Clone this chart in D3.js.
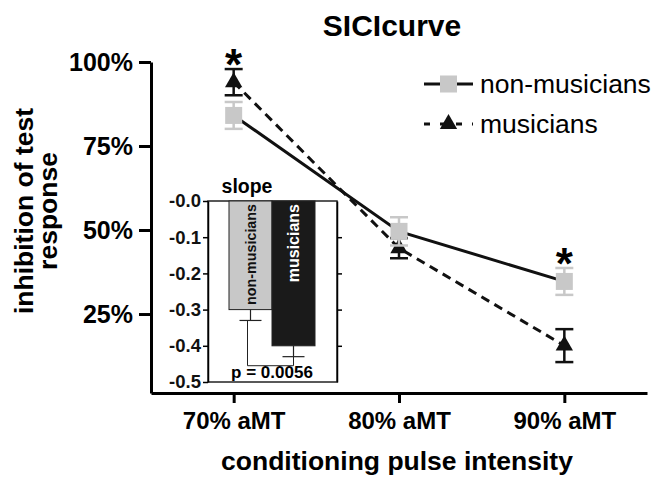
<!DOCTYPE html>
<html>
<head>
<meta charset="utf-8">
<script src="https://cdn.jsdelivr.net/npm/d3@7"></script>
<style>
  body { margin: 0; background: #fff; }
  text { font-family: "Liberation Sans", Arial, Helvetica, sans-serif; }
</style>
</head>
<body>
<svg id="chart" width="655" height="478"></svg>
<script>
// main curve data (% inhibition of test response)
const conditions = ["70% aMT", "80% aMT", "90% aMT"];
const nonMusMean = [84.1, 49.6, 34.7];
const nonMusErr = [4.0, 4.2, 4.0];
const musMean = [94.0, 44.6, 15.6];
const musErr = [3.9, 3.0, 4.9];
const sigStars = ["*", "", "*"];
const yTicks = [25, 50, 75, 100];

// inset slope data
const slopeGroups = ["non-musicians", "musicians"];
const slopeMean = [-0.30, -0.40];
const slopeErr = [0.03, 0.03];
const slopeTicks = [0, -0.1, -0.2, -0.3, -0.4, -0.5];
const pLabel = "p = 0.0056";

const gray = "#c8c8c8";
const svg = d3.select("#chart");

const x = d3.scalePoint().domain(conditions).range([151, 647]).padding(0.5);
const y = d3.scaleLinear().domain([1.5, 100]).range([393, 62]);

// Title
svg.append("text")
    .attr("x", 392).attr("y", 36)
    .attr("text-anchor", "middle")
    .attr("font-size", "30px").attr("font-weight", "bold")
    .text("SICIcurve");

// Axes
const xAxis = svg.append("g")
    .attr("transform", "translate(0,393)")
    .call(d3.axisBottom(x).tickSize(10).tickSizeOuter(0).tickPadding(9));
xAxis.select(".domain").attr("stroke-width", 3);
xAxis.selectAll(".tick line").attr("stroke-width", 3);
xAxis.selectAll(".tick text")
    .attr("font-size", "24px").attr("font-weight", "bold")
    .attr("font-family", "Liberation Sans, Arial, sans-serif");

const yAxis = svg.append("g")
    .attr("transform", "translate(151,0)")
    .call(d3.axisLeft(y).tickValues(yTicks).tickFormat(d => d + "%")
        .tickSize(12).tickSizeOuter(0).tickPadding(6));
yAxis.select(".domain").attr("stroke-width", 3);
yAxis.selectAll(".tick line").attr("stroke-width", 3);
yAxis.selectAll(".tick text")
    .attr("font-size", "25px").attr("font-weight", "bold")
    .attr("font-family", "Liberation Sans, Arial, sans-serif");

// Axis titles
svg.append("text")
    .attr("x", 397).attr("y", 470)
    .attr("text-anchor", "middle")
    .attr("font-size", "26.5px").attr("font-weight", "bold")
    .text("conditioning pulse intensity");

const yTitle = svg.append("text")
    .attr("transform", "translate(0,211) rotate(-90)")
    .attr("text-anchor", "middle")
    .attr("font-size", "26.5px").attr("font-weight", "bold");
yTitle.append("tspan").attr("x", 0).attr("y", 33).text("inhibition of test");
yTitle.append("tspan").attr("x", 0).attr("y", 57).text("response");

// Lines
const line = d3.line().x((d, i) => x(conditions[i])).y(d => y(d));
svg.append("path").datum(musMean)
    .attr("d", line).attr("fill", "none")
    .attr("stroke", "#111").attr("stroke-width", 3)
    .attr("stroke-dasharray", "9,6");
svg.append("path").datum(nonMusMean)
    .attr("d", line).attr("fill", "none")
    .attr("stroke", "#111").attr("stroke-width", 3);

const tri = d3.symbol().type(d3.symbolTriangle).size(130);

function drawErrors(means, errs, color) {
    const g = svg.append("g").attr("stroke", color).attr("stroke-width", 2.5);
    means.forEach((m, i) => {
        const cx = x(conditions[i]);
        g.append("line").attr("x1", cx).attr("x2", cx)
            .attr("y1", y(m - errs[i])).attr("y2", y(m + errs[i]));
        [m - errs[i], m + errs[i]].forEach(v => {
            g.append("line").attr("x1", cx - 9).attr("x2", cx + 9)
                .attr("y1", y(v)).attr("y2", y(v));
        });
    });
}

// musicians (triangles)
drawErrors(musMean, musErr, "#111");
svg.selectAll(".tri").data(musMean).join("path")
    .attr("class", "tri")
    .attr("d", tri)
    .attr("transform", (d, i) => `translate(${x(conditions[i])},${y(d)})`)
    .attr("fill", "#111");

// non-musicians (squares)
drawErrors(nonMusMean, nonMusErr, gray);
svg.selectAll(".sq").data(nonMusMean).join("rect")
    .attr("class", "sq")
    .attr("x", (d, i) => x(conditions[i]) - 8.5)
    .attr("y", d => y(d) - 8.5)
    .attr("width", 17).attr("height", 17)
    .attr("fill", gray);

// significance stars
svg.selectAll(".star").data(sigStars).join("text")
    .attr("class", "star")
    .attr("x", (d, i) => x(conditions[i]))
    .attr("y", (d, i) => y(Math.max(musMean[i] + musErr[i], nonMusMean[i] + nonMusErr[i])) - 14 + 25)
    .attr("text-anchor", "middle")
    .attr("font-size", "44px").attr("font-weight", "bold")
    .text(d => d);

// Legend
const legend = svg.append("g");
const legendRows = [
    { label: "non-musicians", y: 84, dash: null, marker: "sq" },
    { label: "musicians", y: 124, dash: "6,10", marker: "tri" }
];
legendRows.forEach(r => {
    legend.append("line")
        .attr("x1", 424).attr("x2", 473).attr("y1", r.y).attr("y2", r.y)
        .attr("stroke", "#111").attr("stroke-width", 3)
        .attr("stroke-dasharray", r.dash);
    if (r.marker === "sq") {
        legend.append("rect").attr("x", 440).attr("y", r.y - 8.5)
            .attr("width", 17).attr("height", 17).attr("fill", gray);
    } else {
        legend.append("path").attr("d", tri)
            .attr("transform", `translate(448.5,${r.y})`).attr("fill", "#111");
    }
    legend.append("text")
        .attr("x", 480).attr("y", r.y + 9)
        .attr("font-size", "26.5px")
        .text(r.label);
});

// Inset: slope bar chart
const ix = d3.scaleBand().domain(slopeGroups).range([229, 315]).padding(0);
const iy = d3.scaleLinear().domain([-0.5, 0]).range([382, 201]);
const inset = svg.append("g");

inset.append("rect")
    .attr("x", 208).attr("y", 201).attr("width", 129).attr("height", 181)
    .attr("fill", "#fff").attr("stroke", "#222").attr("stroke-width", 1.5);

inset.selectAll(".bar").data(slopeMean).join("rect")
    .attr("class", "bar")
    .attr("x", (d, i) => ix(slopeGroups[i]))
    .attr("y", iy(0))
    .attr("width", ix.bandwidth())
    .attr("height", d => iy(d) - iy(0))
    .attr("fill", (d, i) => i === 0 ? gray : "#1a1a1a")
    .attr("stroke", "#222").attr("stroke-width", 1);

// downward error bars
slopeMean.forEach((m, i) => {
    const cx = ix(slopeGroups[i]) + ix.bandwidth() / 2;
    inset.append("line").attr("x1", cx).attr("x2", cx)
        .attr("y1", iy(m)).attr("y2", iy(m - slopeErr[i]))
        .attr("stroke", "#222").attr("stroke-width", 1.2);
    inset.append("line").attr("x1", cx - 11).attr("x2", cx + 11)
        .attr("y1", iy(m - slopeErr[i])).attr("y2", iy(m - slopeErr[i]))
        .attr("stroke", "#222").attr("stroke-width", 1.2);
});

// bar labels
inset.selectAll(".blabel").data(slopeGroups).join("text")
    .attr("class", "blabel")
    .attr("transform", d => `translate(${ix(d) + ix.bandwidth() / 2 + 5.5},${iy(0) + 3}) rotate(-90)`)
    .attr("text-anchor", "end")
    .attr("font-size", (d, i) => i === 0 ? "14.3px" : "16px")
    .attr("font-weight", "bold")
    .attr("fill", (d, i) => i === 0 ? "#111" : "#fff")
    .text(d => d);

const iAxisL = inset.append("g")
    .attr("transform", "translate(208,0)")
    .call(d3.axisLeft(iy).tickValues(slopeTicks)
        .tickFormat(d => "-" + Math.abs(d).toFixed(1))
        .tickSize(5).tickSizeOuter(0).tickPadding(2));
iAxisL.select(".domain").attr("stroke-width", 1.5);
iAxisL.selectAll(".tick line").attr("stroke-width", 1.5);
iAxisL.selectAll(".tick text")
    .attr("font-size", "18.5px").attr("font-weight", "bold").attr("fill", "#111")
    .attr("font-family", "Liberation Sans, Arial, sans-serif");

const iAxisR = inset.append("g")
    .attr("transform", "translate(337,0)")
    .call(d3.axisRight(iy).tickValues(slopeTicks.slice(1, 5))
        .tickFormat("").tickSize(5).tickSizeOuter(0));
iAxisR.select(".domain").attr("stroke-width", 1.5);
iAxisR.selectAll(".tick line").attr("stroke-width", 1.5);

// significance bracket
const bx1 = ix(slopeGroups[0]) + ix.bandwidth() / 2 - 3;
const bx2 = ix(slopeGroups[1]) + ix.bandwidth() / 2;
const bBottom = iy(-0.455);
inset.append("path")
    .attr("d", `M${bx1},${iy(slopeMean[0] - slopeErr[0])}V${bBottom}H${bx2}V${iy(slopeMean[1] - slopeErr[1])}`)
    .attr("fill", "none").attr("stroke", "#222").attr("stroke-width", 1);

inset.append("text")
    .attr("x", 272).attr("y", 378)
    .attr("text-anchor", "middle")
    .attr("font-size", "17px").attr("font-weight", "bold")
    .text(pLabel);

inset.append("text")
    .attr("x", 247).attr("y", 193)
    .attr("text-anchor", "middle")
    .attr("font-size", "19.5px").attr("font-weight", "bold")
    .text("slope");
</script>
</body>
</html>
